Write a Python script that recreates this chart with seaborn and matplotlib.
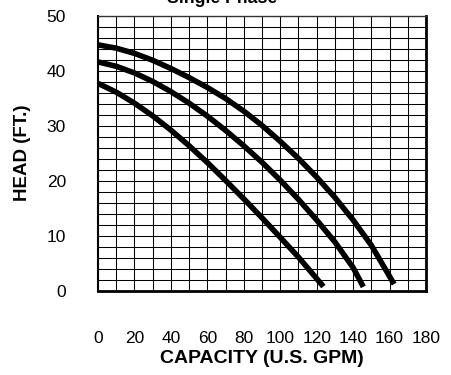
import matplotlib
matplotlib.use("Agg")
import matplotlib.pyplot as plt
from matplotlib.ticker import MultipleLocator
import pandas as pd
import seaborn as sns

# Pump performance curves: capacity (U.S. GPM) vs. head (ft)
top_gpm = [0, 10, 20, 30, 40, 50, 60, 70, 80, 90, 100, 110, 120, 130, 140, 150, 162.5]
top_head = [44.7, 44.1, 43.15, 41.9, 40.4, 38.75, 36.95, 34.95, 32.65, 30.05, 27.15,
            24.05, 20.65, 16.95, 12.85, 8.25, 1.2]

mid_gpm = [0, 10, 20, 30, 40, 50, 60, 70, 80, 90, 100, 110, 120, 130, 140, 145.6]
mid_head = [41.6, 40.8, 39.6, 38.05, 36.2, 34.1, 31.75, 29.15, 26.35, 23.35, 20.1,
            16.6, 12.85, 8.85, 4.2, 0.7]

low_gpm = [0, 10, 20, 30, 40, 50, 60, 70, 80, 90, 100, 110, 123.7]
low_head = [37.7, 36.1, 34.1, 31.8, 29.2, 26.35, 23.3, 20.05, 16.7, 13.25, 9.7, 6.1, 0.76]

x_ticks = [0, 20, 40, 60, 80, 100, 120, 140, 160, 180]
y_ticks = [0, 10, 20, 30, 40, 50]

title = "Single Phase"
x_label = "CAPACITY (U.S. GPM)"
y_label = "HEAD (FT.)"

sns.set_style("white")
plt.rcParams["font.family"] = ["Liberation Sans", "DejaVu Sans"]
plt.rcParams["text.color"] = "black"
plt.rcParams["axes.labelcolor"] = "black"

curves = pd.concat([
    pd.DataFrame({"gpm": top_gpm, "head": top_head, "curve": "top"}),
    pd.DataFrame({"gpm": mid_gpm, "head": mid_head, "curve": "mid"}),
    pd.DataFrame({"gpm": low_gpm, "head": low_head, "curve": "low"}),
])

fig = plt.figure(figsize=(4.51, 3.75), dpi=100)
ax = fig.add_axes([0.2173, 0.2248, 0.7273, 0.7333])

# Grid: every 10 GPM and every 2 ft
ax.xaxis.set_major_locator(MultipleLocator(20))
ax.xaxis.set_minor_locator(MultipleLocator(10))
ax.yaxis.set_major_locator(MultipleLocator(10))
ax.yaxis.set_minor_locator(MultipleLocator(2))
ax.grid(which="both", color="black", linewidth=0.75)
ax.set_axisbelow(True)

sns.lineplot(data=curves, x="gpm", y="head", hue="curve",
             palette={"top": "black", "mid": "black", "low": "black"},
             estimator=None, sort=False, linewidth=4.0, legend=False, ax=ax)
for line in ax.lines:
    line.set_solid_joinstyle("round")
    line.set_solid_capstyle("butt")

ax.set_xlim(0, 180)
ax.set_ylim(0, 50)
ax.set_xticks(x_ticks)
ax.set_yticks(y_ticks)

ax.tick_params(axis="x", which="major", length=13, width=1.0, color="#555555",
               labelcolor="black", pad=16, labelsize=12.5, direction="out")
ax.tick_params(axis="x", which="minor", length=6.5, width=1.0, color="#555555",
               direction="out")
ax.tick_params(axis="y", which="major", length=13, width=1.0, color="#555555",
               labelcolor="black", pad=10, labelsize=12.5, direction="out")
ax.tick_params(axis="y", which="minor", length=6, width=1.0, color="#555555",
               direction="out")

for side, lw, col in [("left", 1.5, "black"), ("bottom", 2.0, "black"),
                      ("right", 2.0, "black"), ("top", 1.0, "#333333")]:
    ax.spines[side].set_visible(True)
    ax.spines[side].set_linewidth(lw)
    ax.spines[side].set_color(col)

ax.set_xlabel(x_label, fontsize=14, fontweight="bold", labelpad=3)
ax.set_ylabel(y_label, fontsize=13.5, fontweight="bold", labelpad=11)

fig.text(0.492, 0.992, title, ha="center", va="baseline",
         fontsize=12.7, fontweight="bold")

fig.savefig("out.png", dpi=100)
